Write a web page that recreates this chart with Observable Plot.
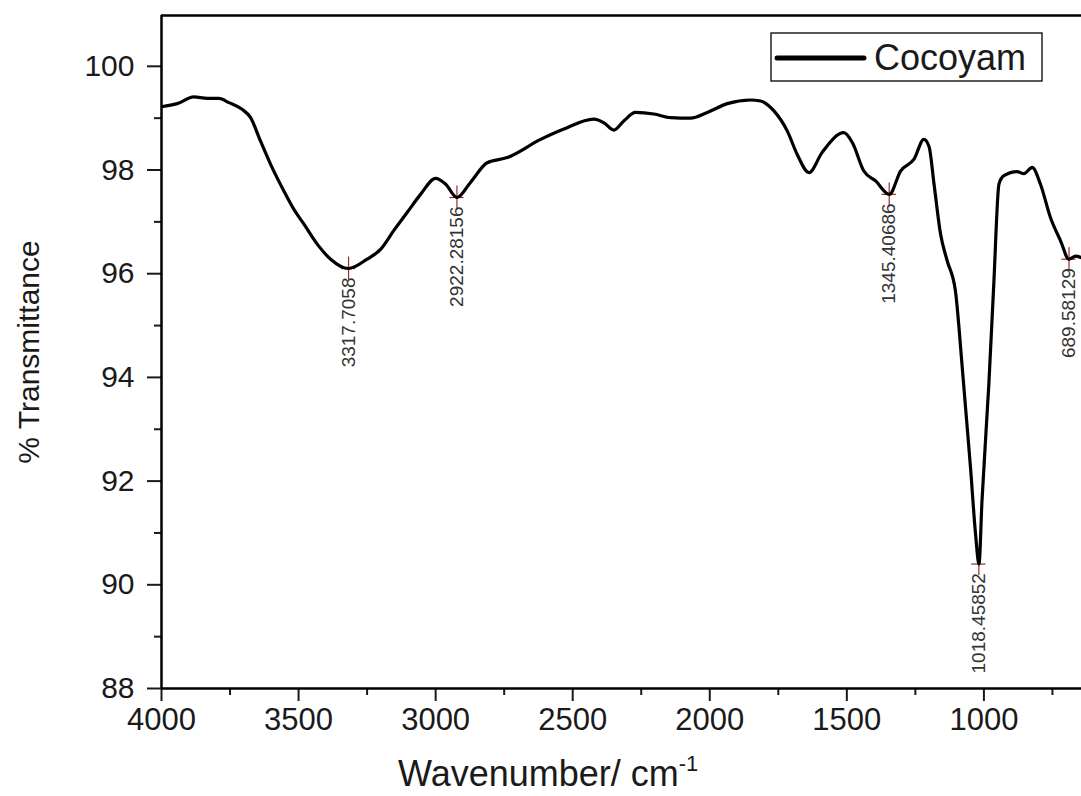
<!DOCTYPE html>
<html><head><meta charset="utf-8">
<script src="https://cdn.jsdelivr.net/npm/d3@7"></script>
<script src="https://cdn.jsdelivr.net/npm/@observablehq/plot@0.6"></script>
<style>body{margin:0;background:#fff;overflow:hidden}</style>
</head><body><div id="chart"></div>
<script>
const wavenumber = [4000,3943,3882,3833,3791,3754,3706,3675,3639,3602,3554,3517,3481,3432,3383,3318,3250,3201,3153,3104,3055,3000,2964,2922,2873,2812,2739,2617,2532,2423,2386,2350,2313,2271,2204,2143,2070,2009,1936,1851,1815,1766,1717,1681,1638,1590,1511,1480,1438,1395,1345,1304,1255,1219,1200,1182,1158,1134,1104,1079,1049,1030,1018,1007,982,964,945,927,879,854,824,794,757,720,690,665,640];
const transmittance = [99.22,99.28,99.41,99.38,99.38,99.30,99.17,99.01,98.56,98.11,97.60,97.24,96.96,96.57,96.28,96.10,96.28,96.47,96.83,97.18,97.53,97.84,97.73,97.47,97.76,98.14,98.24,98.59,98.79,98.98,98.91,98.77,98.95,99.11,99.08,99.01,99.00,99.11,99.28,99.35,99.33,99.14,98.75,98.30,97.95,98.34,98.72,98.53,97.98,97.79,97.53,97.98,98.21,98.59,98.45,97.73,96.76,96.25,95.67,94.19,92.27,90.95,90.40,91.62,93.87,95.80,97.73,97.89,97.97,97.93,98.05,97.73,97.08,96.63,96.28,96.34,96.30];
const peakWavenumber = [3317.7058,2922.28156,1345.40686,1018.45852,689.58129];
const peakTransmittance = [96.10,97.47,97.53,90.40,96.28];
const peakLabels = ["3317.7058","2922.28156","1345.40686","1018.45852","689.58129"];
const xMajorTicks = [4000,3500,3000,2500,2000,1500,1000];
const xMinorTicks = [3750,3250,2750,2250,1750,1250,750];
const yMajorTicks = [88,90,92,94,96,98,100];
const yMinorTicks = [89,91,93,95,97,99];
const seriesName = "Cocoyam";

const spectrum = wavenumber.map((w,i)=>({w, t: transmittance[i]}));
const peaks = peakWavenumber.map((w,i)=>({w, t: peakTransmittance[i], label: peakLabels[i]}));

const font = "'Liberation Sans', Arial, sans-serif";
const yTop = 100.98;
const plot = Plot.plot({
  width: 1081, height: 796,
  marginLeft: 161, marginRight: 0, marginTop: 15, marginBottom: 108,
  style: {fontFamily: font, color: "#1a1a1a", background: "#fff"},
  x: {domain: [4000, 644]},
  y: {domain: [88, yTop]},
  marks: [
    Plot.axisX({ticks: xMajorTicks, tickSize: 13, tickPadding: 6, fontSize: 31, strokeWidth: 2, label: null, tickFormat: d => String(d)}),
    Plot.axisX({ticks: xMinorTicks, tickSize: 7, strokeWidth: 2, label: null, tickFormat: () => ""}),
    Plot.axisY({ticks: yMajorTicks, tickSize: 14, tickPadding: 13, fontSize: 30, strokeWidth: 2, label: null, tickFormat: d => String(d)}),
    Plot.axisY({ticks: yMinorTicks, tickSize: 7, strokeWidth: 2, label: null, tickFormat: () => ""}),
    Plot.ruleY([88], {stroke: "#000", strokeWidth: 2.5}),
    Plot.ruleY([yTop], {stroke: "#000", strokeWidth: 2.5}),
    Plot.ruleX([4000], {stroke: "#000", strokeWidth: 2.5}),
    Plot.ruleX(peaks, {x: "w", y1: d => d.t + 0.22, y2: d => d.t - 0.22, stroke: "#a0282a", strokeWidth: 1.2}),
    Plot.ruleY(peaks, {y: "t", x1: d => d.w + 26, x2: d => d.w - 26, stroke: "#a0282a", strokeWidth: 1.2}),
    Plot.line(spectrum, {x: "w", y: "t", stroke: "#000", strokeWidth: 3.2, curve: "monotone-x", clip: true}),
    Plot.text(peaks, {x: "w", y: "t", text: "label", rotate: -90, textAnchor: "end", lineAnchor: "middle", dy: 9, fontSize: 19, fill: "#333", fontFamily: font})
  ]
});
document.getElementById("chart").appendChild(plot);

const svg = d3.select(plot);
// legend
const lg = svg.append("g").attr("text-anchor", "start");
lg.append("rect").attr("x", 771).attr("y", 33).attr("width", 271).attr("height", 48)
  .attr("fill", "#fff").attr("stroke", "#000").attr("stroke-width", 1.3);
lg.append("line").attr("x1", 777).attr("x2", 864).attr("y1", 58).attr("y2", 58)
  .attr("stroke", "#000").attr("stroke-width", 5).attr("stroke-linecap", "round");
lg.append("text").attr("x", 874).attr("y", 70).attr("font-size", 36).attr("font-family", font)
  .attr("text-anchor", "start").attr("fill", "#1a1a1a").text(seriesName);
// x title
const xt = svg.append("text").attr("x", 398).attr("y", 786).attr("font-size", 36)
  .attr("text-anchor", "start").attr("font-family", font).attr("fill", "#1a1a1a");
xt.append("tspan").text("Wavenumber/ cm");
xt.append("tspan").attr("font-size", 22).attr("dy", -15).text("-1");
// y title
svg.append("text").attr("transform", "translate(39,352) rotate(-90)").attr("text-anchor", "middle")
  .attr("font-size", 30).attr("font-family", font).attr("fill", "#1a1a1a").text("% Transmittance");
</script>
</body></html>
